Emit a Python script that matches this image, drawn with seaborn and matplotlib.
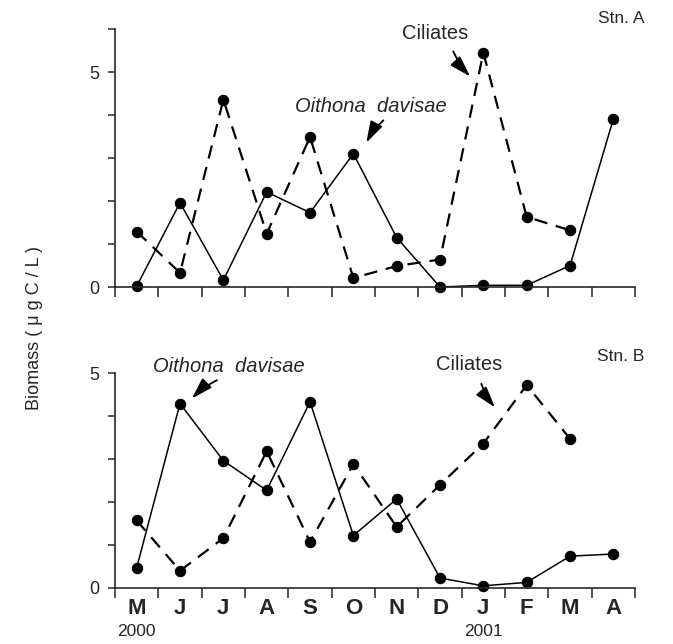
import numpy as np
import matplotlib.pyplot as plt
import seaborn as sns


months = ['M', 'J', 'J', 'A', 'S', 'O', 'N', 'D', 'J', 'F', 'M', 'A']
year_labels = {0: '2000', 8: '2001'}

# Stn. A, biomass (ugC/L)
oithona_a = [0.02, 1.96, 0.16, 2.21, 1.73, 3.10, 1.15, 0.0, 0.04, 0.04, 0.50, 3.91]
ciliates_a = [1.29, 0.33, 4.36, 1.24, 3.49, 0.21, 0.49, 0.64, 5.45, 1.63, 1.32]

# Stn. B
oithona_b = [0.47, 4.29, 2.96, 2.27, 4.33, 1.22, 2.07, 0.23, 0.05, 0.13, 0.74, 0.79]
ciliates_b = [1.57, 0.40, 1.16, 3.18, 1.07, 2.88, 1.42, 2.40, 3.36, 4.72, 3.47]


def draw_series(ax, values, dashed=False):
    x = np.arange(len(values))
    sns.lineplot(x=x, y=values, ax=ax, color='black', marker='o',
                 markersize=7.5, markeredgecolor='black',
                 linewidth=1.6 if dashed else 1.1)
    line = ax.lines[-1]
    if dashed:
        line.set_dashes((6, 4))
    line.set_clip_on(False)


def label_with_arrow(ax, text, text_xy, start, end, italic=False):
    ax.text(*text_xy, text, ha='center', va='center', fontsize=14.5,
            style='italic' if italic else 'normal')
    ax.annotate('', xy=end, xytext=start,
                arrowprops=dict(arrowstyle='-|>,head_length=1.3,head_width=0.4',
                                color='black', lw=1.3,
                                connectionstyle='arc3,rad=0.1'),
                annotation_clip=False)


def style_axis(ax, ymax):
    ax.set_xlim(-0.5, len(months) - 0.5)
    ax.set_ylim(0, ymax)
    ax.set_xticks(np.arange(len(months) + 1) - 0.5)
    ax.set_xticklabels([])
    ax.set_yticks(range(ymax + 1))
    ax.set_yticklabels(['0' if v == 0 else '5' if v == 5 else '' for v in range(ymax + 1)])
    ax.tick_params(axis='x', direction='out', length=7, width=1.1)
    ax.tick_params(axis='y', direction='out', length=5, width=1.1, labelsize=13, pad=6)
    for s in ['top', 'right']:
        ax.spines[s].set_visible(False)
    for s in ['left', 'bottom']:
        ax.spines[s].set_linewidth(1.2)
    ax.set_xlabel('')
    ax.set_ylabel('')


def main():
    sns.set_style('ticks')
    plt.rcParams['font.family'] = ['Liberation Sans', 'DejaVu Sans']

    fig = plt.figure(figsize=(6.73, 6.44), dpi=100)
    ax_a = fig.add_axes([0.1709, 0.5543, 0.7727, 0.4006])
    ax_b = fig.add_axes([0.1709, 0.0870, 0.7727, 0.3338])

    draw_series(ax_a, ciliates_a, dashed=True)
    draw_series(ax_a, oithona_a)
    draw_series(ax_b, ciliates_b, dashed=True)
    draw_series(ax_b, oithona_b)

    style_axis(ax_a, 6)
    style_axis(ax_b, 5)

    label_with_arrow(ax_a, 'Ciliates', (6.89, 5.9), (7.28, 5.54), (7.74, 4.85))
    label_with_arrow(ax_a, 'Oithona  davisae', (5.41, 4.19), (5.74, 3.92), (5.27, 3.30),
                     italic=True)
    label_with_arrow(ax_b, 'Oithona  davisae', (2.13, 5.15), (1.91, 4.86), (1.23, 4.36),
                     italic=True)
    label_with_arrow(ax_b, 'Ciliates', (7.67, 5.19), (7.93, 4.81), (8.31, 4.15))

    # month labels centred in each interval, years underneath
    for i, m in enumerate(months):
        ax_b.text(i, -0.47, m, ha='center', va='center', fontsize=16,
                  fontweight='bold', clip_on=False)
    for i, y in year_labels.items():
        ax_b.text(i, -1.02, y, ha='center', va='center', fontsize=12.5, clip_on=False)

    fig.text(0.958, 0.972, 'Stn. A', ha='right', va='center', fontsize=12.5)
    fig.text(0.958, 0.446, 'Stn. B', ha='right', va='center', fontsize=12.5)
    fig.text(0.052, 0.49, 'Biomass ( μ g C / L )', rotation=90,
             ha='center', va='center', fontsize=13)

    fig.savefig('out.png', dpi=100)


if __name__ == '__main__':
    main()
